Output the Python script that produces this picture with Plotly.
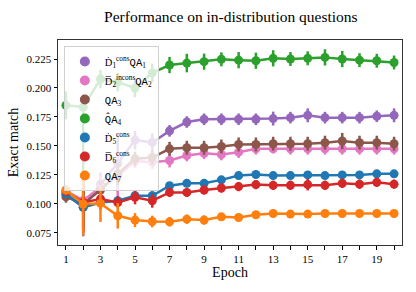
import plotly.graph_objects as go

epochs = list(range(1, 21))
xtick_labels = [str(e) if e % 2 == 1 else "" for e in epochs]
ytick_vals = [0.075, 0.100, 0.125, 0.150, 0.175, 0.200, 0.225]

names = [
    "Ḋ<sub>1</sub><sup>cons</sup><span style='font-family:Liberation Mono'>QA</span><sub>1</sub>",
    "D̅<sub>2</sub><sup>incons</sup><span style='font-family:Liberation Mono'>QA</span><sub>2</sub>",
    "<span style='font-family:Liberation Mono'>QA</span><sub>3</sub>",
    "<span style='font-family:Liberation Mono'>Q̂A</span><sub>4</sub>",
    "Ḋ<sub>5</sub><sup>cons</sup>",
    "D̅<sub>6</sub><sup>cons</sup>",
    "<span style='font-family:Liberation Mono'>QA</span><sub>7</sub>",
]
colors = ["#9467bd", "#e377c2", "#8c564b", "#2ca02c", "#1f77b4", "#d62728", "#ff7f0e"]

qa1 = [0.108, 0.097, 0.117, 0.135, 0.155, 0.153, 0.163, 0.1706, 0.173, 0.173,
       0.173, 0.173, 0.1736, 0.1744, 0.1764, 0.1744, 0.1744, 0.1744, 0.1756, 0.1764]
qa2 = [0.111, 0.103, 0.114, 0.124, 0.137, 0.136, 0.1374, 0.1417, 0.1437, 0.1426,
       0.1446, 0.1475, 0.1475, 0.1475, 0.1475, 0.1475, 0.1475, 0.1475, 0.1475, 0.1475]
qa3 = [0.106, 0.100, 0.112, 0.126, 0.139, 0.140, 0.1475, 0.1484, 0.1484, 0.1495,
       0.1513, 0.1513, 0.1519, 0.1519, 0.1519, 0.1528, 0.1542, 0.1528, 0.1528, 0.1519]
qa4 = [0.185, 0.1836, 0.2077, 0.205, 0.200, 0.213, 0.2198, 0.2215, 0.2227, 0.2247,
       0.224, 0.2235, 0.2256, 0.225, 0.2256, 0.2264, 0.225, 0.224, 0.2235, 0.222]
qa5 = [0.1088, 0.097, 0.1012, 0.1027, 0.107, 0.107, 0.1157, 0.1177, 0.1177, 0.1207,
       0.1244, 0.1253, 0.1244, 0.1244, 0.125, 0.1244, 0.125, 0.125, 0.1259, 0.1259]
qa6 = [0.111, 0.1012, 0.1042, 0.1012, 0.1056, 0.1027, 0.1099, 0.1099, 0.112, 0.1137,
       0.1149, 0.1166, 0.116, 0.116, 0.1166, 0.116, 0.1177, 0.117, 0.1186, 0.117]
qa7 = [0.112, 0.0999, 0.1004, 0.0897, 0.086, 0.0848, 0.0845, 0.0868, 0.086, 0.0888,
       0.0882, 0.0906, 0.0917, 0.0912, 0.0912, 0.0917, 0.0917, 0.0917, 0.0917, 0.0917]

err1 = [0.004, 0.025, 0.01, 0.025, 0.008, 0.008, 0.005, 0.005, 0.005, 0.005,
        0.005, 0.005, 0.006, 0.005, 0.006, 0.005, 0.005, 0.005, 0.005, 0.006]
err2 = [0.004, 0.02, 0.01, 0.02, 0.006, 0.006, 0.006, 0.005, 0.005, 0.005,
        0.005, 0.005, 0.004, 0.005, 0.005, 0.005, 0.005, 0.005, 0.005, 0.005]
err3 = [0.005, 0.02, 0.008, 0.01, 0.006, 0.006, 0.006, 0.006, 0.006, 0.006,
        0.006, 0.006, 0.006, 0.006, 0.006, 0.006, 0.007, 0.006, 0.006, 0.006]
err4 = [0.012, 0.011, 0.008, 0.008, 0.008, 0.008, 0.007, 0.008, 0.007, 0.006,
        0.007, 0.007, 0.007, 0.006, 0.006, 0.007, 0.007, 0.006, 0.006, 0.006]
err4_minus = [0.012, 0.06, 0.008, 0.008, 0.008, 0.008, 0.007, 0.008, 0.007, 0.006,
              0.007, 0.007, 0.007, 0.006, 0.006, 0.007, 0.007, 0.006, 0.006, 0.006]
err5 = [0.003, 0.02, 0.006, 0.004, 0.004, 0.004, 0.003, 0.003, 0.003, 0.003,
        0.003, 0.003, 0.003, 0.003, 0.003, 0.003, 0.003, 0.003, 0.003, 0.003]
err6 = [0.004, 0.026, 0.006, 0.005, 0.006, 0.006, 0.004, 0.004, 0.004, 0.004,
        0.004, 0.004, 0.004, 0.004, 0.005, 0.004, 0.004, 0.004, 0.004, 0.004]
err7 = [0.004, 0.027, 0.016, 0.011, 0.006, 0.005, 0.004, 0.004, 0.004, 0.003,
        0.003, 0.003, 0.003, 0.002, 0.002, 0.002, 0.002, 0.002, 0.002, 0.002]

series = [qa1, qa2, qa3, qa4, qa5, qa6, qa7]
errs = [err1, err2, err3, err4, err5, err6, err7]
errs_minus = [err1, err2, err3, err4_minus, err5, err6, err7]

fig = go.Figure()
for name, col, ys, ep, em in zip(names, colors, series, errs, errs_minus):
    fig.add_trace(go.Scatter(
        x=epochs, y=ys, mode="lines+markers", showlegend=False,
        line=dict(color=col, width=2.5),
        marker=dict(color=col, size=9),
        error_y=dict(type="data", array=ep, arrayminus=em, symmetric=False,
                     color=col, thickness=2.5, width=0),
    ))
for name, col in zip(names, colors):
    fig.add_trace(go.Scatter(
        x=[None], y=[None], mode="markers", name=name,
        marker=dict(color=col, size=10),
    ))

serif = "Liberation Serif, DejaVu Serif, serif"
fig.update_layout(
    width=416, height=292,
    margin=dict(l=58, r=14, t=40, b=47),
    paper_bgcolor="white", plot_bgcolor="white",
    font=dict(family=serif, size=11, color="black"),
    title=dict(text="Performance on in-distribution questions", x=0.555, xanchor="center",
               y=1 - 17 / 292, yanchor="middle", font=dict(size=15.5, family=serif)),
    legend=dict(x=0.017, y=0.971, xanchor="left", yanchor="top",
                bgcolor="rgba(255,255,255,0.8)", bordercolor="#d0d0d0", borderwidth=1,
                font=dict(size=10.5, family=serif), tracegroupgap=0, itemwidth=30),
    xaxis=dict(range=[0.54, 20.46], tickmode="array", tickvals=epochs, ticktext=xtick_labels,
               ticks="outside", ticklen=3.5, tickcolor="black", showline=True, linecolor="#333",
               linewidth=1, mirror=True, showgrid=False, zeroline=False, automargin=False,
               title=dict(text="Epoch", font=dict(size=14), standoff=3)),
    yaxis=dict(range=[0.0645, 0.2414], tickmode="array", tickvals=ytick_vals,
               ticktext=[f"{v:.3f}" for v in ytick_vals],
               ticks="outside", ticklen=3.5, tickcolor="black", showline=True, linecolor="#333",
               linewidth=1, mirror=True, showgrid=False, zeroline=False, automargin=False,
               title=dict(text="Exact match", font=dict(size=14), standoff=4)),
)
fig.write_html("out.html", config={"displayModeBar": False},
               post_script="document.body.style.margin='0';")
